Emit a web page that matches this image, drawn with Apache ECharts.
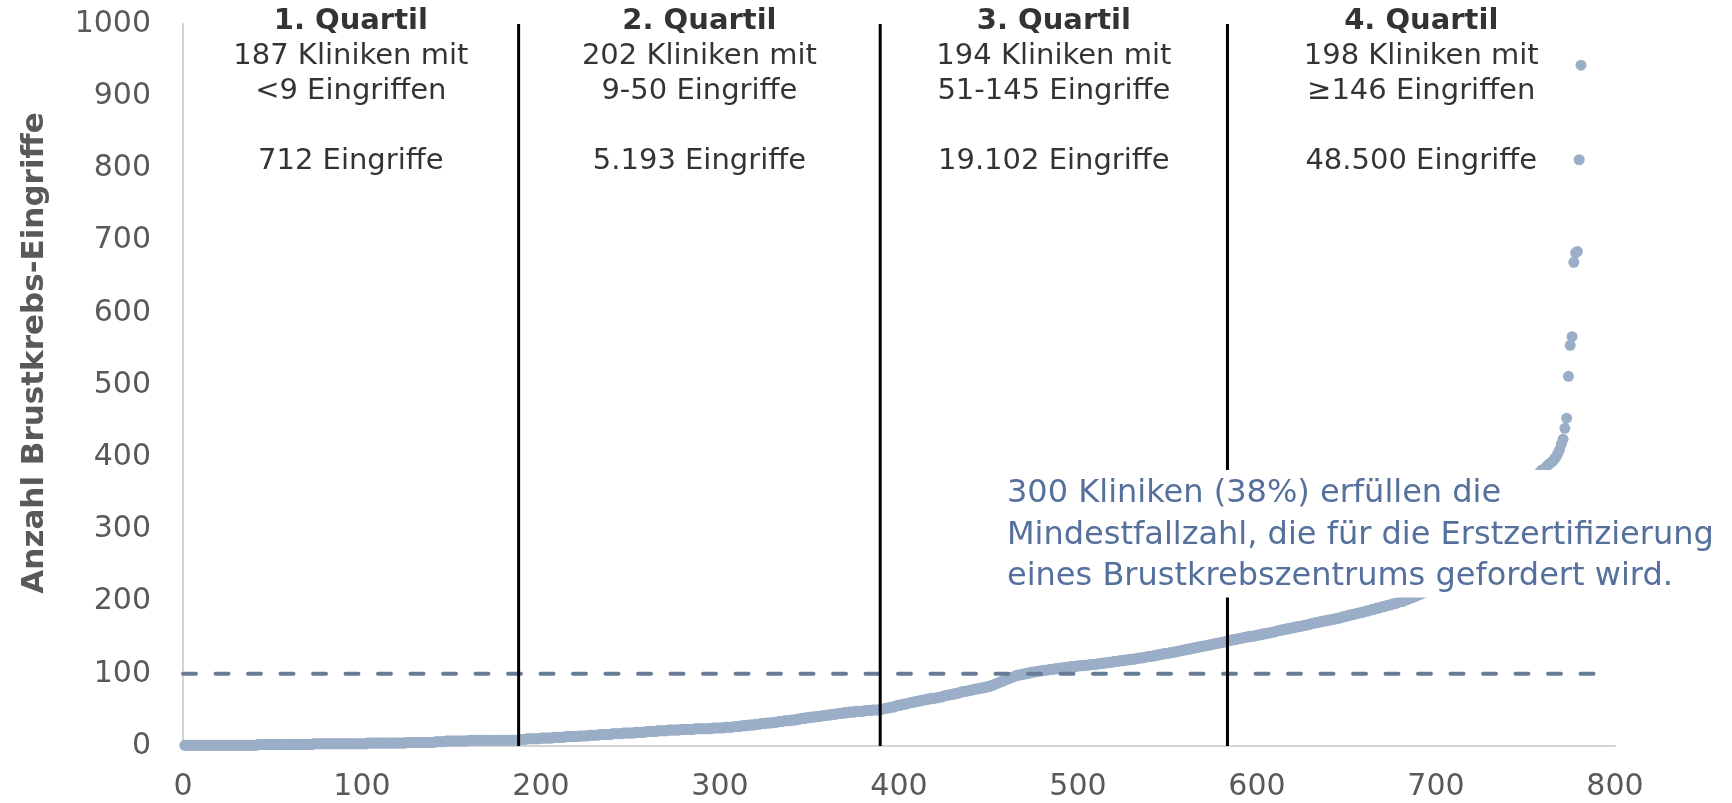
<!DOCTYPE html>
<html><head><meta charset="utf-8">
<script src="https://cdn.jsdelivr.net/npm/echarts@6/dist/echarts.min.js"></script>
<style>html,body{margin:0;padding:0;background:#fff}#c{width:1732px;height:803px}</style>
</head><body><div id="c"></div>
<script>
// Sorted number of breast cancer operations per clinic (rank = position + 1)
const q1Values = [
1,1,1,1,1,1,1,1,1,1,1,1,1,1,1,1,1,1,1,1,1,1,1,1,1,1,1,1,1,1,1,1,1,1,1,1,1,1,1,1,1,
2,2,2,2,2,2,2,2,2,2,2,2,2,2,2,2,2,2,2,2,2,2,2,2,2,2,2,2,2,2,2,
3,3,3,3,3,3,3,3,3,3,3,3,3,3,3,3,3,3,3,3,3,3,3,3,3,3,3,3,3,3,
4,4,4,4,4,4,4,4,4,4,4,4,4,4,4,4,4,4,4,4,4,4,
5,5,5,5,5,5,5,5,5,5,5,5,5,5,5,5,
6,6,6,6,6,6,
7,7,7,7,7,7,7,7,7,7,7,7,7,
8,8,8,8,8,8,8,8,8,8,8,8,8,8,8,8,8,8,8,8,8,8,8,8,8,8,8,8];
const q2Values = [
9,9,9,9,10,10,10,10,10,10, 10,10,11,11,11,11,11,11,11,12,
12,12,12,12,12,12,13,13,13,13, 13,13,13,14,14,14,14,14,14,15,
15,15,15,15,15,16,16,16,16,16, 16,16,17,17,17,17,17,17,18,18,
18,18,18,18,18,19,19,19,19,19, 19,20,20,20,20,20,20,21,21,21,
21,21,21,22,22,22,22,22,22,22, 23,23,23,23,23,23,23,23,24,24,
24,24,24,24,24,24,24,24,25,25, 25,25,25,25,25,26,26,26,26,26,
27,27,27,27,28,28,28,28,29,29, 29,29,30,30,30,31,31,31,32,32,
32,32,33,33,33,34,34,34,35,35, 35,35,36,36,36,37,37,38,38,38,
39,39,39,40,40,40,41,41,41,42, 42,42,43,43,43,44,44,44,45,45,
45,46,46,46,47,47,47,47,48,48, 48,48,48,49,49,49,49,50,50,50,
50,50];
const q3Values = [
51,51,52,52,53,53,54,54,55,56, 56,57,57,58,58,59,60,60,61,61,
62,62,63,63,64,64,65,65,66,66, 66,67,67,68,68,69,70,70,71,71,
72,72,73,73,74,75,75,76,76,77, 77,78,78,79,79,80,80,81,81,82,
82,83,84,85,86,87,88,89,90,91, 92,93,94,95,96,97,98,98,99,99,
100,100,101,101,102,102,103,103,104,104, 104,105,105,105,106,106,106,107,107,107,
108,108,108,109,109,109,110,110,110,110, 111,111,111,112,112,112,112,113,113,113,
113,114,114,114,115,115,115,116,116,116, 117,117,117,118,118,118,119,119,119,120,
120,120,121,121,122,122,122,123,123,124, 124,124,125,125,126,126,127,127,128,128,
128,129,129,130,130,131,131,132,132,133, 133,134,134,135,135,136,136,137,137,138,
138,139,139,140,140,141,141,142,142,143, 143,144,144,145];
const q4Values = [
146,146,147,147,148,148,149,149,150,150, 151,151,152,152,152,153,153,154,154,155,
155,156,156,157,157,158,158,159,160,160, 161,161,162,162,163,163,164,164,165,165,
166,166,167,167,168,168,169,170,170,171, 171,172,172,173,173,174,174,175,175,176,
176,177,177,178,179,179,180,181,181,182, 182,183,184,184,185,185,186,187,187,188,
189,189,190,191,191,192,193,193,194,195, 195,196,197,197,198,199,200,200,201,202,
203,204,
205,206,207,208,209,210,211,212,213,214, 215,216,217,218,219,220,222,223,224,226,
228,229,231,232,234,235,237,238,240,241, 243,244,246,247,249,251,252,254,256,258,
260,262,264,267,269,271,274,276,279,282, 285,288,291,294,297,300,303,307,311,315,
319,323,327,332,337,342,347,352,358,364, 370,375,379,382,
383,385,388,390,392,394,397,400,405,410, 418,425,440,454,512,555,567,670,683,685,
812,943];

const quartileBounds = [187.5, 389.5, 583.5];
const quartileTitles = ['1. Quartil', '2. Quartil', '3. Quartil', '4. Quartil'];
const quartileLine1 = ['187 Kliniken mit', '202 Kliniken mit', '194 Kliniken mit', '198 Kliniken mit'];
const quartileLine2 = ['<9 Eingriffen', '9-50 Eingriffe', '51-145 Eingriffe', '\u2265146 Eingriffen'];
const quartileTotals = ['712 Eingriffe', '5.193 Eingriffe', '19.102 Eingriffe', '48.500 Eingriffe'];
const thresholdValue = 100;
const thresholdRange = [0, 795];
const xRange = [0, 800];
const yRange = [0, 1000];
const yTitle = 'Anzahl Brustkrebs-Eingriffe';
const annotationLines = [
  '300 Kliniken (38%) erfüllen die',
  'Mindestfallzahl, die für die Erstzertifizierung',
  'eines Brustkrebszentrums gefordert wird.'
];

const FONT = 'DejaVu Sans';
const allValues = q1Values.concat(q2Values, q3Values, q4Values);
const points = allValues.map((v, i) => [i + 1, v]);

const edges = [xRange[0]].concat(quartileBounds, [xRange[1]]);
const headerData = quartileTitles.map((t, i) => ({
  value: [(edges[i] + edges[i + 1]) / 2, yRange[1]],
  label: {
    formatter: '{b|' + t + '}\n' + quartileLine1[i] + '\n' + quartileLine2[i] + '\n\n' + quartileTotals[i]
  }
}));

const series = [
  {
    type: 'scatter', name: 'Kliniken', data: points, symbolSize: 11, z: 2,
    itemStyle: { color: '#9BAEC7', opacity: 1 }, silent: true
  },
  {
    type: 'line', name: 'Mindestfallzahl', symbol: 'none', z: 3, silent: true,
    data: [[thresholdRange[0], thresholdValue], [thresholdRange[1], thresholdValue]],
    lineStyle: { color: '#687C98', width: 4, type: [13, 19.5], cap: 'round' }
  }
];
quartileBounds.forEach((b, i) => {
  series.push({
    type: 'line', name: 'grenze' + i, symbol: 'none', z: 4, silent: true,
    data: [[b, yRange[0]], [b, yRange[1]]],
    lineStyle: { color: '#000', width: 3, type: 'solid' }
  });
});
series.push({
  type: 'scatter', name: 'header', symbolSize: 0, z: 5, silent: true,
  data: headerData,
  label: {
    show: true, position: [0, -20], align: 'center', verticalAlign: 'top',
    fontFamily: FONT, fontSize: 29, color: '#000', lineHeight: 35,
    rich: { b: { fontFamily: FONT, fontSize: 29, fontWeight: 'bold', color: '#000', lineHeight: 35 } }
  }
});

const chart = echarts.init(document.getElementById('c'), null, { renderer: 'canvas' });
chart.setOption({
  animation: false,
  backgroundColor: '#fff',
  grid: { left: 183, right: 117, top: 24, bottom: 57, containLabel: false },
  xAxis: {
    type: 'value', min: xRange[0], max: xRange[1], interval: 100,
    axisLine: { show: true, lineStyle: { color: '#D3D3D3', width: 2 } },
    axisTick: { show: false }, splitLine: { show: false },
    axisLabel: { color: '#595959', fontFamily: FONT, fontSize: 30, margin: 26, formatter: v => String(v) }
  },
  yAxis: {
    type: 'value', min: yRange[0], max: yRange[1], interval: 100,
    name: yTitle, nameLocation: 'middle', nameRotate: 90, nameGap: 133,
    nameTextStyle: { color: '#595959', fontFamily: FONT, fontSize: 31, fontWeight: 'bold', padding: [0, 0, 0, 64] },
    axisLine: { show: true, lineStyle: { color: '#D3D3D3', width: 2 } },
    axisTick: { show: false }, splitLine: { show: false },
    axisLabel: { color: '#595959', fontFamily: FONT, fontSize: 30, margin: 32, formatter: v => String(v) }
  },
  series: series,
  graphic: [{
    type: 'text', left: 1003, top: 470, z: 100,
    style: {
      text: annotationLines.join('\n'),
      font: '32px "' + FONT + '"',
      fill: '#55709C', lineHeight: 41.5,
      backgroundColor: '#fff', padding: [3, 12, 0, 4]
    }
  }]
});
</script></body></html>
